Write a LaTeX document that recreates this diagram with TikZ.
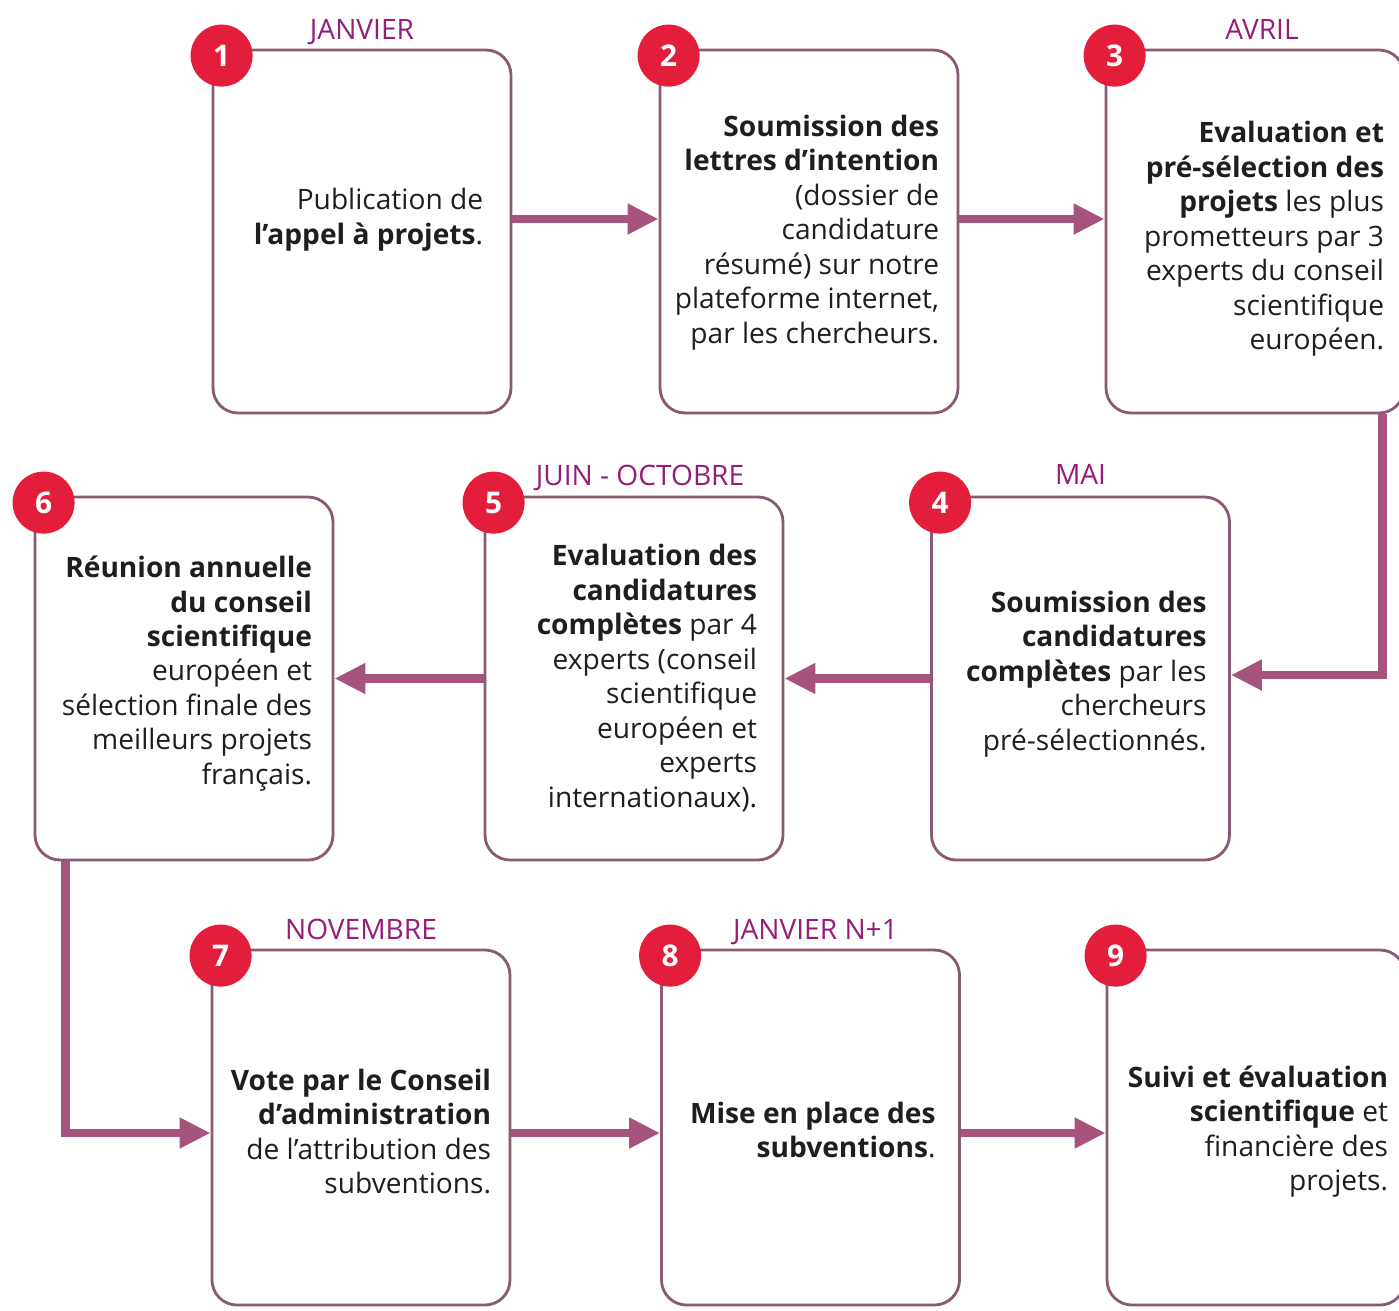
\documentclass[tikz,border=0pt]{standalone}
\usepackage{fontspec}
\setmainfont{Open Sans}
\usepackage{xcolor}
\usetikzlibrary{arrows.meta, positioning, calc}
\definecolor{etaperouge}{RGB}{226, 30, 58}
\definecolor{moisviolet}{RGB}{150, 28, 120}
\definecolor{cadre}{RGB}{136, 90, 116}
\definecolor{flechemauve}{RGB}{166, 84, 126}
\definecolor{encre}{RGB}{30, 30, 30}

\begin{document}
\begin{tikzpicture}[
    boite/.style={draw=cadre, line width=1.6pt, rounded corners=0.5cm, fill=white,
                  minimum width=5.96cm, minimum height=7.26cm, inner sep=0pt},
    boitebas/.style={boite, minimum height=7.1cm},
    texte/.style={anchor=east, align=right, inner sep=0pt, text=encre,
                  font=\fontsize{16}{19.6}\selectfont},
    pastille/.style={circle, fill=etaperouge, text=white, minimum size=1.24cm,
                     inner sep=0pt, font=\fontsize{17}{17}\selectfont\bfseries},
    mois/.style={text=moisviolet, inner sep=0pt, text height=0.42cm, text depth=0.1cm,
                 font=\fontsize{16}{19}\selectfont},
    fleche/.style={draw=flechemauve, line width=5pt,
                   -{Triangle[length=0.62cm, width=0.58cm]}}
]
    % Cadre de l'image
    \useasboundingbox (0,0) rectangle (27.98,-26.2);

    % Etapes (ligne 1)
    \node[boite] (b1) at (7.24,-4.63) {};
    \node[boite] (b2) at (16.18,-4.63) {};
    \node[boite] (b3) at (25.1,-4.63) {};

    % Etapes (ligne 2)
    \node[boite] (b6) at (3.68,-13.57) {};
    \node[boite] (b5) at (12.68,-13.57) {};
    \node[boite] (b4) at (21.61,-13.57) {};

    % Etapes (ligne 3)
    \node[boitebas] (b7) at (7.22,-22.55) {};
    \node[boitebas] (b8) at (16.21,-22.55) {};
    \node[boitebas] (b9) at (25.12,-22.55) {};

    % Textes des etapes
    \node[texte] (t1) at ($(b1.east)+(-0.58,0.24)$)
        {Publication de\\\textbf{l’appel à projets}.};
    \node[texte] (t2) at ($(b2.east)+(-0.4,-0.02)$)
        {\textbf{Soumission des}\\\textbf{lettres d’intention}\\(dossier de\\candidature\\résumé) sur notre\\plateforme internet,\\par les chercheurs.};
    \node[texte] (t3) at ($(b3.east)+(-0.42,-0.15)$)
        {\textbf{Evaluation et}\\\textbf{pré-sélection des}\\\textbf{projets} les plus\\prometteurs par 3\\experts du conseil\\scientifique\\européen.};
    \node[texte] (t4) at ($(b4.east)+(-0.48,0.09)$)
        {\textbf{Soumission des}\\\textbf{candidatures}\\\textbf{complètes} par les\\chercheurs\\pré-sélectionnés.};
    \node[texte] (t5) at ($(b5.east)+(-0.54,0.01)$)
        {\textbf{Evaluation des}\\\textbf{candidatures}\\\textbf{complètes} par 4\\experts (conseil\\scientifique\\européen et\\experts\\internationaux).};
    \node[texte] (t6) at ($(b6.east)+(-0.44,0.1)$)
        {\textbf{Réunion annuelle}\\\textbf{du conseil}\\\textbf{scientifique}\\européen et\\sélection finale des\\meilleurs projets\\français.};
    \node[texte] (t7) at ($(b7.east)+(-0.4,-0.08)$)
        {\textbf{Vote par le Conseil}\\\textbf{d’administration}\\de l’attribution des\\subventions.};
    \node[texte] (t8) at ($(b8.east)+(-0.5,-0.05)$)
        {\textbf{Mise en place des}\\\textbf{subventions}.};
    \node[texte] (t9) at ($(b9.east)+(-0.36,-0.08)$)
        {\textbf{Suivi et évaluation}\\\textbf{scientifique} et\\financière des\\projets.};

    % Numeros
    \foreach \i in {1,...,9}
        \node[pastille] (p\i) at ($(b\i.north west)+(0.2,-0.14)$) {\i};

    % Mois
    \node[mois, above=0.08cm of b1.north] (m1) {JANVIER};
    \node[mois, above=0.08cm of b3.north, xshift=0.14cm] (m3) {AVRIL};
    \node[mois, above=0.12cm of b4.north] (m4) {MAI};
    \node[mois, above=0.1cm of b5.north, xshift=0.12cm] (m5) {JUIN - OCTOBRE};
    \node[mois, above=0.08cm of b7.north] (m7) {NOVEMBRE};
    \node[mois, above=0.08cm of b8.north, xshift=0.1cm] (m8) {JANVIER N+1};

    % Fleches
    \draw[fleche] ([yshift=0.25cm]b1.east) -- ([yshift=0.25cm]b2.west);
    \draw[fleche] ([yshift=0.25cm]b2.east) -- ([yshift=0.25cm]b3.west);
    \draw[fleche] ([xshift=-0.46cm]b3.south east) |- ([yshift=0.07cm]b4.east);
    \draw[fleche] (b4.west) -- (b5.east);
    \draw[fleche] (b5.west) -- (b6.east);
    \draw[fleche] ([xshift=0.64cm]b6.south west) |- ([yshift=-0.11cm]b7.west);
    \draw[fleche] ([yshift=-0.11cm]b7.east) -- ([yshift=-0.11cm]b8.west);
    \draw[fleche] ([yshift=-0.11cm]b8.east) -- ([yshift=-0.11cm]b9.west);

\end{tikzpicture}
\end{document}
